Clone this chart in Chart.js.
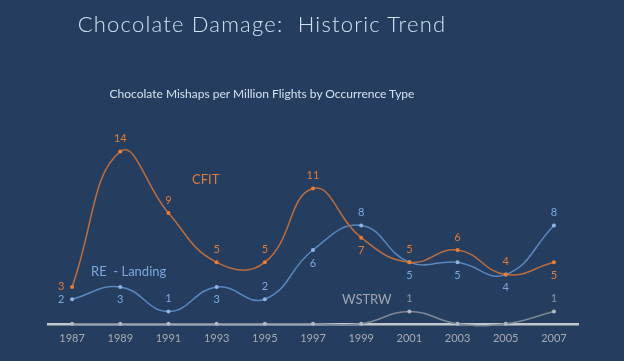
<!DOCTYPE html>
<html>
<head>
<meta charset="utf-8">
<script src="https://cdn.jsdelivr.net/npm/chart.js@4"></script>
<style>
    body { margin: 0; background: #253e5f; }
    #wrap { position: relative; width: 624px; height: 361px; overflow: hidden; }
    #title { position: absolute; left: 0; width: 524px; top: 10px; text-align: center;
        font-family: 'Lato', sans-serif; font-weight: 300; font-size: 22px; letter-spacing: 1.2px; color: #d3e2f2; }
    #subtitle { position: absolute; left: 0; width: 524px; top: 86px; text-align: center;
        font-family: 'Lato', sans-serif; font-size: 12px; color: #d3e2f2; }
    .series { position: absolute; font-family: 'Lato', sans-serif; font-size: 13px; }
    canvas { position: absolute; left: 0; top: 0; }
</style>
</head>
<body>
<div id="wrap">
    <canvas id="trendChart" width="624" height="361"></canvas>
    <div id="title">Chocolate Damage:&nbsp; Historic Trend</div>
    <div id="subtitle">Chocolate Mishaps per Million Flights by Occurrence Type</div>
    <div class="series" style="left:192px; top:171px; color:#e07b39;">CFIT</div>
    <div class="series" style="left:91px; top:263px; color:#7fa6e0;">RE&nbsp; - Landing</div>
    <div class="series" style="left:342px; top:291px; color:#a0a6ad;">WSTRW</div>
</div>
<script>
let years = ['1987', '1989', '1991', '1993', '1995', '1997', '1999', '2001', '2003', '2005', '2007'];
let cfit = [3, 14, 9, 5, 5, 11, 7, 5, 6, 4, 5];
let reLanding = [2, 3, 1, 3, 2, 6, 8, 5, 5, 4, 8];
let wstrw = [0, 0, 0, 0, 0, 0, 0, 1, 0, 0, 1];

// where each value label sits relative to its point
let cfitPos = ['left', 'above', 'above', 'above', 'above', 'above', 'below', 'above', 'above', 'above', 'below'];
let rePos = ['left', 'below', 'above', 'below', 'above', 'below', 'above', 'below', 'below', 'below', 'above'];
let wstrwPos = ['none', 'none', 'none', 'none', 'none', 'none', 'none', 'above', 'none', 'none', 'above'];

// Simple value label plugin (no datalabels plugin available offline)
const valueLabels = {
    id: 'valueLabels',
    afterDatasetsDraw(chart) {
        const ctx = chart.ctx;
        ctx.save();
        ctx.font = '11px Lato, sans-serif';
        ctx.textAlign = 'center';
        ctx.textBaseline = 'middle';
        chart.data.datasets.forEach((ds, i) => {
            const meta = chart.getDatasetMeta(i);
            meta.data.forEach((pt, j) => {
                let pos = ds.labelPos[j];
                if (pos === 'none') return;
                let x = pt.x, y = pt.y;
                if (pos === 'above') y -= 13;
                else if (pos === 'below') y += 13;
                else if (pos === 'left') x -= 11;
                ctx.fillStyle = ds.labelColor;
                ctx.fillText(ds.data[j], x, y);
            });
        });
        ctx.restore();
    }
};

const ctx = document.getElementById('trendChart').getContext('2d');
new Chart(ctx, {
    type: 'line',
    data: {
        labels: years,
        datasets: [
            {
                label: 'CFIT',
                data: cfit,
                borderColor: '#b96c3e',
                backgroundColor: '#ed7d31',
                pointBackgroundColor: '#ed7d31',
                pointBorderWidth: 0,
                pointRadius: 2,
                borderWidth: 1.5,
                labelPos: cfitPos,
                labelColor: '#e07b39'
            },
            {
                label: 'RE - Landing',
                data: reLanding,
                borderColor: '#5b87bf',
                backgroundColor: '#8fb4e6',
                pointBackgroundColor: '#8fb4e6',
                pointBorderWidth: 0,
                pointRadius: 2,
                borderWidth: 1.5,
                labelPos: rePos,
                labelColor: '#7fa6e0'
            },
            {
                label: 'WSTRW',
                data: wstrw,
                borderColor: '#7d8896',
                backgroundColor: '#b4bac2',
                pointBackgroundColor: '#b4bac2',
                pointBorderWidth: 0,
                pointRadius: 2,
                borderWidth: 1.5,
                labelPos: wstrwPos,
                labelColor: '#8e949b'
            }
        ]
    },
    options: {
        responsive: false,
        animation: false,
        clip: false,
        elements: { line: { tension: 0.45, capBezierPoints: false } },
        layout: { padding: { left: 48, right: 46, top: 127, bottom: 8 } },
        plugins: {
            legend: { display: false },
            tooltip: { enabled: false }
        },
        scales: {
            x: {
                offset: true,
                grid: { display: false, drawTicks: false },
                border: { display: true, color: '#c3c7cc', width: 2.5 },
                ticks: { color: '#a7abb0', font: { family: 'Lato', size: 11 }, padding: 8 }
            },
            y: {
                display: false,
                min: 0,
                max: 16
            }
        }
    },
    plugins: [valueLabels]
});
</script>
</body>
</html>
